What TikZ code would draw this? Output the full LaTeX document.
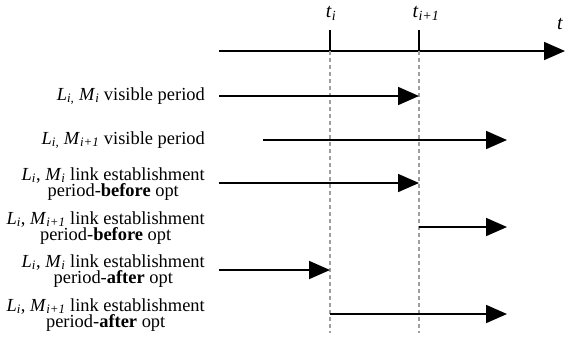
\documentclass[tikz,border=0pt]{standalone}
\usepackage{fontspec}
\setmainfont{Liberation Serif}
\usetikzlibrary{arrows.meta}
\newcommand{\Li}{\textit{L}\textsubscript{\textit{i}}}
\newcommand{\Lic}{\textit{L}\textsubscript{\textit{i,}}}
\newcommand{\Mi}{\textit{M}\textsubscript{\textit{i}}}
\newcommand{\Mii}{\textit{M}\textsubscript{\textit{i+1}}}

\begin{document}
\begin{tikzpicture}
		[x=1bp,y=-1bp,font=\fontsize{18.5}{15.5}\selectfont,
		 arr/.style={line width=1.8bp,-{Triangle[length=21bp,width=18bp]}},
		 lbl/.style={anchor=east,align=center,inner sep=0pt},
		 tlbl/.style={font=\fontsize{20}{20}\selectfont,inner sep=0pt},
		 guide/.style={gray!75,line width=1.4bp,dash pattern=on 4bp off 3bp}]
		\useasboundingbox (0,0) rectangle (565,338);
		% time axis
		\coordinate (a0) at (219,51);
		\coordinate (a1) at (565,51);
		\coordinate (ti) at (330,51);
		\coordinate (tj) at (419,51);
		\draw[arr] (a0) -- (a1);
		\draw[line width=1.8bp] (ti) -- ++(0,-21);
		\draw[line width=1.8bp] (tj) -- ++(0,-21);
		\node[tlbl] (ti_lbl) at (331,13) {\textit{t}\textsubscript{\textit{i}}};
		\node[tlbl] (tj_lbl) at (426,13) {\textit{t}\textsubscript{\textit{i+1}}};
		\node[tlbl] (t_lbl) at (560,24) {\textit{t}};
		\coordinate (ti_end) at (330,333);
		\coordinate (tj_end) at (419,333);
		\draw[guide] (ti) -- (ti_end);
		\draw[guide] (tj) -- (tj_end);
		% periods
		\node[lbl] (p1) at (205,96) {\Lic\ \Mi\ visible period};
		\node[lbl] (p2) at (205,140) {\Lic\ \Mii\ visible period};
		\node[lbl] (p3) at (205,184) {\Li, \Mi\ link establishment\\period-\textbf{before} opt};
		\node[lbl] (p4) at (205,228) {\Li, \Mii\ link establishment\\period-\textbf{before} opt};
		\node[lbl] (p5) at (205,271) {\Li, \Mi\ link establishment\\period-\textbf{after} opt};
		\node[lbl] (p6) at (205,315) {\Li, \Mii\ link establishment\\period-\textbf{after} opt};
		\coordinate (s1) at (219,96);  \coordinate (e1) at (419,96);
		\coordinate (s2) at (263,140); \coordinate (e2) at (507,140);
		\coordinate (s3) at (219,183); \coordinate (e3) at (419,183);
		\coordinate (s4) at (419,227); \coordinate (e4) at (507,227);
		\coordinate (s5) at (219,270); \coordinate (e5) at (330,270);
		\coordinate (s6) at (330,314); \coordinate (e6) at (507,314);
		\foreach \k in {1,...,6}
			\draw[arr] (s\k) -- (e\k);
\end{tikzpicture}
\end{document}
